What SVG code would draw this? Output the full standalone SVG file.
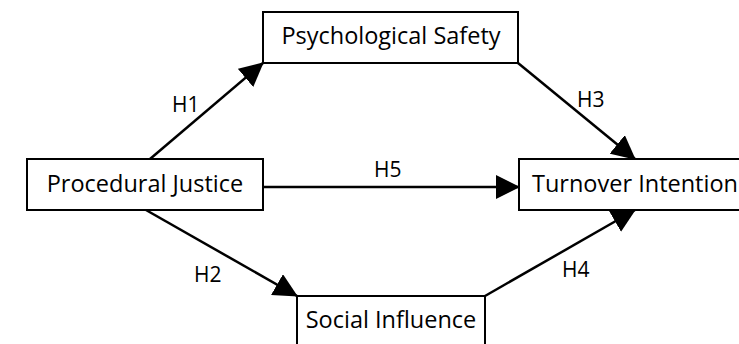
<svg xmlns="http://www.w3.org/2000/svg" width="739" height="344" viewBox="0 0 739 344">
<style>
.box{fill:#fff;stroke:#000;stroke-width:2}
.lbl{font-family:"Open Sans","Liberation Sans",sans-serif;font-size:23.5px;fill:#000}
.h{font-family:"Open Sans","Liberation Sans",sans-serif;font-size:21px;fill:#000}
.c{stroke:#000;stroke-width:2.5;fill:none;marker-end:url(#ah)}
</style>
<defs>
<marker id="ah" markerUnits="userSpaceOnUse" markerWidth="24" markerHeight="24" refX="23" refY="12" orient="auto" viewBox="0 0 24 24">
<path d="M0,0 L24,12 L0,24 z" fill="#000"/>
</marker>
</defs>
<rect width="739" height="344" fill="#fff"/>
<g id="connectors">
<line class="c" x1="150" y1="159" x2="263" y2="63"/>
<line class="c" x1="518" y1="63" x2="635" y2="159"/>
<line class="c" x1="263" y1="187" x2="519" y2="187"/>
<line class="c" x1="146" y1="210" x2="297" y2="296"/>
<line class="c" x1="485" y1="296" x2="635" y2="210"/>
</g>
<g id="labels">
<text class="h" x="172" y="112">H1</text>
<text class="h" x="577" y="107">H3</text>
<text class="h" x="374" y="177">H5</text>
<text class="h" x="194" y="282">H2</text>
<text class="h" x="562" y="277">H4</text>
</g>
<g id="psych">
<rect class="box" x="263" y="12" width="255" height="51"/>
<text class="lbl" x="391" y="44" text-anchor="middle">Psychological Safety</text>
</g>
<g id="procedural">
<rect class="box" x="27" y="159" width="236" height="51"/>
<text class="lbl" x="145" y="192" text-anchor="middle">Procedural Justice</text>
</g>
<g id="turnover">
<rect class="box" x="519" y="159" width="232" height="51"/>
<text class="lbl" x="532" y="192">Turnover Intention</text>
</g>
<g id="social">
<rect class="box" x="297" y="296" width="188" height="60"/>
<text class="lbl" x="391" y="328" text-anchor="middle">Social Influence</text>
</g>
</svg>
